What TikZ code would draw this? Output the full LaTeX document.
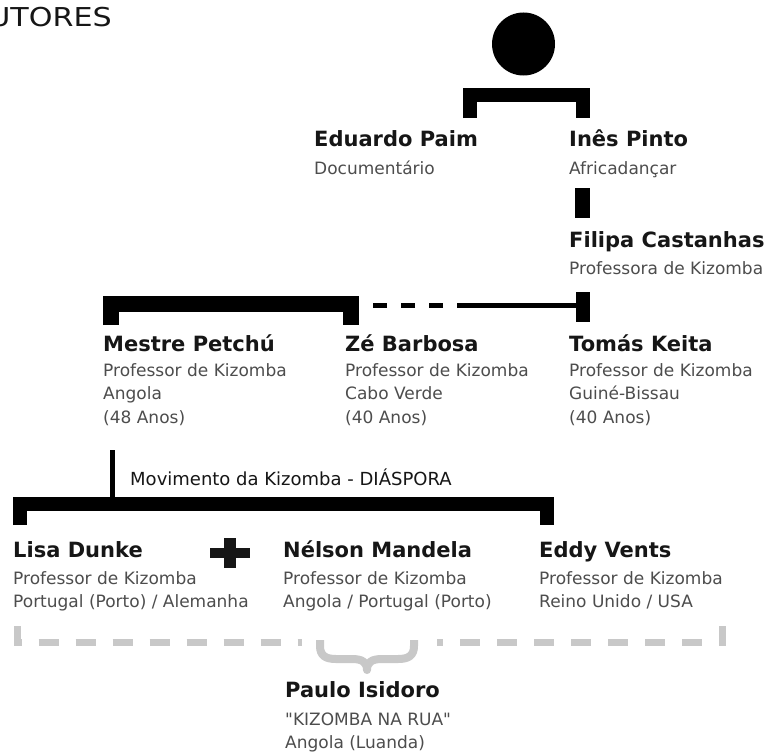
\documentclass[tikz,border=0pt]{standalone}
\usepackage{fontspec}
\setmainfont[Ligatures=TeXOff]{DejaVu Sans}
\newfontfamily\titlefont[FakeStretch=1.16,Ligatures=TeXOff]{DejaVu Sans}
\definecolor{namecol}{HTML}{161616}
\definecolor{infocol}{HTML}{4D4D4D}
\definecolor{lightgray}{HTML}{C8C8C8}
\tikzset{
  pname/.style={anchor=base west, inner sep=0pt, text=namecol, font=\fontsize{21}{24}\selectfont\bfseries},
  pinfo/.style={anchor=base west, inner sep=0pt, text=infocol, align=left, font=\fontsize{17}{23.5}\selectfont},
  bracket/.style={line width=#1, line join=miter, line cap=butt, draw=black},
  thinlink/.style={line width=5pt, draw=black},
  graydash/.style={line width=7pt, draw=lightgray, dash pattern=on 20pt off 17pt},
}
\begin{document}
\begin{tikzpicture}[x=1pt,y=-1pt]
\clip (0,0) rectangle (765,752);
\fill[white] (0,0) rectangle (765,752);
% title (cut off at the left edge)
\node[anchor=base east, inner sep=0pt, font=\titlefont\fontsize{26}{30}\selectfont, text=namecol] (title) at (112,27) {EXECUTORES};
% top circle
\node[circle, fill=black, minimum size=63pt, inner sep=0pt] (root) at (523.5,44) {};
% people (info nodes anchored at the baseline of their last line)
\node[pname] (ep) at (314,146) {Eduardo Paim};
\node[pinfo] (epi) at (314,174) {Documentário};
\node[pname] (ip) at (569,146) {Inês Pinto};
\node[pinfo] (ipi) at (569,174) {Africadançar};
\node[pname] (fc) at (569,247) {Filipa Castanhas};
\node[pinfo] (fci) at (569,274) {Professora de Kizomba};
\node[pname] (mp) at (103,351) {Mestre Petchú};
\node[pinfo] (mpi) at (103,423) {Professor de Kizomba\\Angola\\(48 Anos)};
\node[pname] (zb) at (345,351) {Zé Barbosa};
\node[pinfo] (zbi) at (345,423) {Professor de Kizomba\\Cabo Verde\\(40 Anos)};
\node[pname] (tk) at (569,351) {Tomás Keita};
\node[pinfo] (tki) at (569,423) {Professor de Kizomba\\Guiné-Bissau\\(40 Anos)};
\node[pname] (ld) at (13,557) {Lisa Dunke};
\node[pinfo] (ldi) at (13,607.5) {Professor de Kizomba\\Portugal (Porto) / Alemanha};
\node[pname] (nm) at (283,557) {Nélson Mandela};
\node[pinfo] (nmi) at (283,607.5) {Professor de Kizomba\\Angola / Portugal (Porto)};
\node[pname] (ev) at (539,557) {Eddy Vents};
\node[pinfo] (evi) at (539,607.5) {Professor de Kizomba\\Reino Unido / USA};
\node[pname] (pi) at (285,697) {Paulo Isidoro};
\node[pinfo] (pii) at (285,748.5) {"KIZOMBA NA RUA"\\Angola (Luanda)};
\node[anchor=base west, inner sep=0pt, text=namecol, font=\fontsize{18}{22}\selectfont] (mov) at (130,485) {Movimento da Kizomba - DIÁSPORA};
% top bracket under circle
\coordinate (tbl) at (470,118);
\coordinate (tbr) at (582.5,118);
\draw[bracket=14pt] (tbl) -- (470,95) -- (582.5,95) -- (tbr);
% Ines -> Filipa
\draw[bracket=15pt] (582.5,188) -- (582.5,218);
% Filipa -> Tomas
\coordinate (fcb) at (583,292);
\coordinate (tkt) at (583,322);
\draw[bracket=14pt] (fcb) -- (tkt);
\draw[thinlink] (583,305) -- (457,305);
\draw[line width=5pt, dash pattern=on 14pt off 14pt] (443,305) -- (372,305);
% Mestre / Ze bracket
\draw[bracket=16pt] (110.5,325) -- (110.5,303.5) -- (350.5,303.5) -- (350.5,325);
% Mestre -> diaspora
\draw[thinlink] (112,450) -- (112,499);
% diaspora bracket
\draw[bracket=14pt] (20,525) -- (20,504) -- (546.5,504) -- (546.5,525);
% plus sign
\fill[namecol] (210,548) rectangle (250,558);
\fill[namecol] (224,538) rectangle (236,568);
% gray dashed bracket
\draw[graydash] (17.5,626) -- (17.5,642) -- (302,642);
\draw[graydash] (722.5,626) -- (722.5,642) -- (437,642);
% brace
\draw[lightgray, line width=8pt, line join=round] (320,640) -- (320,646) .. controls (320,656) and (326,659) .. (336,659) -- (352,659) .. controls (362,659) and (367,662) .. (367,670) .. controls (367,662) and (372,659) .. (382,659) -- (398,659) .. controls (408,659) and (414,656) .. (414,646) -- (414,640);
\end{tikzpicture}
\end{document}
